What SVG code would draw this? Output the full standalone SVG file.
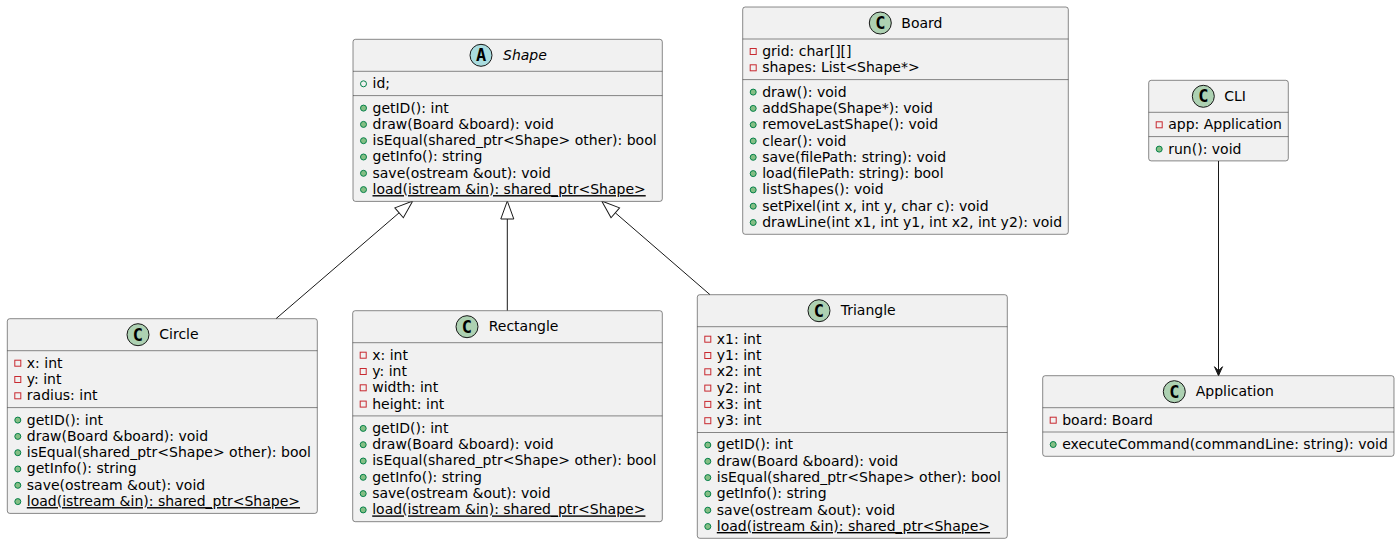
<svg xmlns="http://www.w3.org/2000/svg" width="1400" height="543" viewBox="0 0 1400 543">
<style>
.box{fill:#F1F1F1;stroke:#181818;stroke-width:0.5}
.sep{stroke:#181818;stroke-width:0.5}
.t{font-family:"DejaVu Sans","Liberation Sans",sans-serif;font-size:14px;fill:#000000}
.it{font-style:italic}
.u{text-decoration:underline;text-decoration-skip-ink:none}
.pub{fill:#84BE84;stroke:#038048;stroke-width:1}
.pubf{fill:none;stroke:#038048;stroke-width:1}
.priv{fill:none;stroke:#C82930;stroke-width:1}
.spot{fill:#ADD1B2;stroke:#181818;stroke-width:1}
.spotA{fill:#A9DCDF;stroke:#181818;stroke-width:1}
.sl{font-family:"DejaVu Sans Mono","Liberation Mono",monospace;font-weight:bold;font-size:17px;text-anchor:middle;fill:#000000}
.edge{stroke:#181818;stroke-width:1;fill:none}
</style>
<defs>
<marker id="ext" markerUnits="userSpaceOnUse" viewBox="-1 -8 21 16" refX="0" refY="0" markerWidth="21" markerHeight="16" orient="auto" overflow="visible">
<path d="M0,-6.5 L18,0 L0,6.5 Z" fill="none" stroke="#181818" stroke-width="1"/>
</marker>
<marker id="arr" markerUnits="userSpaceOnUse" viewBox="-10 -5 11 10" refX="0" refY="0" markerWidth="11" markerHeight="10" orient="auto" overflow="visible">
<path d="M0,0 L-9,-4 L-5,0 L-9,4 Z" fill="#181818" stroke="#181818" stroke-width="1"/>
</marker>
</defs>

<g id="connectors">
<line class="edge" x1="276" y1="318.7" x2="399.1" y2="212.8" marker-end="url(#ext)"/>
<line class="edge" x1="507.3" y1="310.7" x2="507.3" y2="219" marker-end="url(#ext)"/>
<line class="edge" x1="710" y1="294.7" x2="615.3" y2="212.8" marker-end="url(#ext)"/>
<line class="edge" x1="1218.5" y1="160.9" x2="1218.5" y2="375.7" marker-end="url(#arr)"/>
</g>

<g id="Shape" transform="translate(353,39.3)">
<rect class="box" x="0" y="0" width="309.3" height="162.1" rx="2.5" ry="2.5"/>
<circle class="spotA" cx="128" cy="16" r="11"/>
<text class="sl" x="128" y="22">A</text>
<text class="t it" x="150" y="20.8">Shape</text>
<line class="sep" x1="0" y1="32" x2="309.3" y2="32"/>
<line class="sep" x1="0" y1="56.3" x2="309.3" y2="56.3"/>
<circle class="pubf" cx="10.5" cy="44.5" r="3"/>
<text class="t" x="19.5" y="49">id;</text>
<circle class="pub" cx="10.5" cy="68.8" r="3"/>
<text class="t" x="19.5" y="73.3">getID(): int</text>
<circle class="pub" cx="10.5" cy="85.1" r="3"/>
<text class="t" x="19.5" y="89.6">draw(Board &amp;board): void</text>
<circle class="pub" cx="10.5" cy="101.4" r="3"/>
<text class="t" x="19.5" y="105.9">isEqual(shared_ptr&lt;Shape&gt; other): bool</text>
<circle class="pub" cx="10.5" cy="117.7" r="3"/>
<text class="t" x="19.5" y="122.2">getInfo(): string</text>
<circle class="pub" cx="10.5" cy="134" r="3"/>
<text class="t" x="19.5" y="138.5">save(ostream &amp;out): void</text>
<circle class="pub" cx="10.5" cy="150.3" r="3"/>
<text class="t u" x="19.5" y="154.8">load(istream &amp;in): shared_ptr&lt;Shape&gt;</text>
</g>

<g id="Board" transform="translate(742.7,7)">
<rect class="box" x="0" y="0" width="325.6" height="227.3" rx="2.5" ry="2.5"/>
<circle class="spot" cx="137.6" cy="16" r="11"/>
<text class="sl" x="137.6" y="22">C</text>
<text class="t" x="158.6" y="20.8">Board</text>
<line class="sep" x1="0" y1="32" x2="325.6" y2="32"/>
<line class="sep" x1="0" y1="72.6" x2="325.6" y2="72.6"/>
<rect class="priv" x="7.5" y="41.5" width="6" height="6"/>
<text class="t" x="19.5" y="49">grid: char[][]</text>
<rect class="priv" x="7.5" y="57.8" width="6" height="6"/>
<text class="t" x="19.5" y="65.3">shapes: List&lt;Shape*&gt;</text>
<circle class="pub" cx="10.5" cy="85.1" r="3"/>
<text class="t" x="19.5" y="89.6">draw(): void</text>
<circle class="pub" cx="10.5" cy="101.4" r="3"/>
<text class="t" x="19.5" y="105.9">addShape(Shape*): void</text>
<circle class="pub" cx="10.5" cy="117.7" r="3"/>
<text class="t" x="19.5" y="122.2">removeLastShape(): void</text>
<circle class="pub" cx="10.5" cy="134" r="3"/>
<text class="t" x="19.5" y="138.5">clear(): void</text>
<circle class="pub" cx="10.5" cy="150.3" r="3"/>
<text class="t" x="19.5" y="154.8">save(filePath: string): void</text>
<circle class="pub" cx="10.5" cy="166.6" r="3"/>
<text class="t" x="19.5" y="171.1">load(filePath: string): bool</text>
<circle class="pub" cx="10.5" cy="182.9" r="3"/>
<text class="t" x="19.5" y="187.4">listShapes(): void</text>
<circle class="pub" cx="10.5" cy="199.2" r="3"/>
<text class="t" x="19.5" y="203.7">setPixel(int x, int y, char c): void</text>
<circle class="pub" cx="10.5" cy="215.5" r="3"/>
<text class="t" x="19.5" y="220">drawLine(int x1, int y1, int x2, int y2): void</text>
</g>

<g id="CLI" transform="translate(1148.7,80.3)">
<rect class="box" x="0" y="0" width="139.6" height="80.6" rx="2.5" ry="2.5"/>
<circle class="spot" cx="54.6" cy="16" r="11"/>
<text class="sl" x="54.6" y="22">C</text>
<text class="t" x="75.6" y="20.8">CLI</text>
<line class="sep" x1="0" y1="32" x2="139.6" y2="32"/>
<line class="sep" x1="0" y1="56.3" x2="139.6" y2="56.3"/>
<rect class="priv" x="7.5" y="41.5" width="6" height="6"/>
<text class="t" x="19.5" y="49">app: Application</text>
<circle class="pub" cx="10.5" cy="68.8" r="3"/>
<text class="t" x="19.5" y="73.3">run(): void</text>
</g>

<g id="Application" transform="translate(1042.7,375.7)">
<rect class="box" x="0" y="0" width="351.3" height="80.6" rx="2.5" ry="2.5"/>
<circle class="spot" cx="131.6" cy="16" r="11"/>
<text class="sl" x="131.6" y="22">C</text>
<text class="t" x="153" y="20.8">Application</text>
<line class="sep" x1="0" y1="32" x2="351.3" y2="32"/>
<line class="sep" x1="0" y1="56.3" x2="351.3" y2="56.3"/>
<rect class="priv" x="7.5" y="41.5" width="6" height="6"/>
<text class="t" x="19.5" y="49">board: Board</text>
<circle class="pub" cx="10.5" cy="68.8" r="3"/>
<text class="t" x="19.5" y="73.3">executeCommand(commandLine: string): void</text>
</g>

<g id="Circle" transform="translate(7.3,318.7)">
<rect class="box" x="0" y="0" width="310" height="194.7" rx="2.5" ry="2.5"/>
<circle class="spot" cx="130.7" cy="16" r="11"/>
<text class="sl" x="130.7" y="22">C</text>
<text class="t" x="152" y="20.8">Circle</text>
<line class="sep" x1="0" y1="32" x2="310" y2="32"/>
<line class="sep" x1="0" y1="88.9" x2="310" y2="88.9"/>
<rect class="priv" x="7.5" y="41.5" width="6" height="6"/>
<text class="t" x="19.5" y="49">x: int</text>
<rect class="priv" x="7.5" y="57.8" width="6" height="6"/>
<text class="t" x="19.5" y="65.3">y: int</text>
<rect class="priv" x="7.5" y="74.1" width="6" height="6"/>
<text class="t" x="19.5" y="81.6">radius: int</text>
<circle class="pub" cx="10.5" cy="101.4" r="3"/>
<text class="t" x="19.5" y="105.9">getID(): int</text>
<circle class="pub" cx="10.5" cy="117.7" r="3"/>
<text class="t" x="19.5" y="122.2">draw(Board &amp;board): void</text>
<circle class="pub" cx="10.5" cy="134" r="3"/>
<text class="t" x="19.5" y="138.5">isEqual(shared_ptr&lt;Shape&gt; other): bool</text>
<circle class="pub" cx="10.5" cy="150.3" r="3"/>
<text class="t" x="19.5" y="154.8">getInfo(): string</text>
<circle class="pub" cx="10.5" cy="166.6" r="3"/>
<text class="t" x="19.5" y="171.1">save(ostream &amp;out): void</text>
<circle class="pub" cx="10.5" cy="182.9" r="3"/>
<text class="t u" x="19.5" y="187.4">load(istream &amp;in): shared_ptr&lt;Shape&gt;</text>
</g>

<g id="Rectangle" transform="translate(352.7,310.7)">
<rect class="box" x="0" y="0" width="309.6" height="211" rx="2.5" ry="2.5"/>
<circle class="spot" cx="114.3" cy="16" r="11"/>
<text class="sl" x="114.3" y="22">C</text>
<text class="t" x="136" y="20.8">Rectangle</text>
<line class="sep" x1="0" y1="32" x2="309.6" y2="32"/>
<line class="sep" x1="0" y1="105.2" x2="309.6" y2="105.2"/>
<rect class="priv" x="7.5" y="41.5" width="6" height="6"/>
<text class="t" x="19.5" y="49">x: int</text>
<rect class="priv" x="7.5" y="57.8" width="6" height="6"/>
<text class="t" x="19.5" y="65.3">y: int</text>
<rect class="priv" x="7.5" y="74.1" width="6" height="6"/>
<text class="t" x="19.5" y="81.6">width: int</text>
<rect class="priv" x="7.5" y="90.4" width="6" height="6"/>
<text class="t" x="19.5" y="97.9">height: int</text>
<circle class="pub" cx="10.5" cy="117.7" r="3"/>
<text class="t" x="19.5" y="122.2">getID(): int</text>
<circle class="pub" cx="10.5" cy="134" r="3"/>
<text class="t" x="19.5" y="138.5">draw(Board &amp;board): void</text>
<circle class="pub" cx="10.5" cy="150.3" r="3"/>
<text class="t" x="19.5" y="154.8">isEqual(shared_ptr&lt;Shape&gt; other): bool</text>
<circle class="pub" cx="10.5" cy="166.6" r="3"/>
<text class="t" x="19.5" y="171.1">getInfo(): string</text>
<circle class="pub" cx="10.5" cy="182.9" r="3"/>
<text class="t" x="19.5" y="187.4">save(ostream &amp;out): void</text>
<circle class="pub" cx="10.5" cy="199.2" r="3"/>
<text class="t u" x="19.5" y="203.7">load(istream &amp;in): shared_ptr&lt;Shape&gt;</text>
</g>

<g id="Triangle" transform="translate(697.3,294.7)">
<rect class="box" x="0" y="0" width="310" height="243.6" rx="2.5" ry="2.5"/>
<circle class="spot" cx="121.7" cy="16" r="11"/>
<text class="sl" x="121.7" y="22">C</text>
<text class="t" x="143.4" y="20.8">Triangle</text>
<line class="sep" x1="0" y1="32" x2="310" y2="32"/>
<line class="sep" x1="0" y1="137.8" x2="310" y2="137.8"/>
<rect class="priv" x="7.5" y="41.5" width="6" height="6"/>
<text class="t" x="19.5" y="49">x1: int</text>
<rect class="priv" x="7.5" y="57.8" width="6" height="6"/>
<text class="t" x="19.5" y="65.3">y1: int</text>
<rect class="priv" x="7.5" y="74.1" width="6" height="6"/>
<text class="t" x="19.5" y="81.6">x2: int</text>
<rect class="priv" x="7.5" y="90.4" width="6" height="6"/>
<text class="t" x="19.5" y="97.9">y2: int</text>
<rect class="priv" x="7.5" y="106.7" width="6" height="6"/>
<text class="t" x="19.5" y="114.2">x3: int</text>
<rect class="priv" x="7.5" y="123" width="6" height="6"/>
<text class="t" x="19.5" y="130.5">y3: int</text>
<circle class="pub" cx="10.5" cy="150.3" r="3"/>
<text class="t" x="19.5" y="154.8">getID(): int</text>
<circle class="pub" cx="10.5" cy="166.6" r="3"/>
<text class="t" x="19.5" y="171.1">draw(Board &amp;board): void</text>
<circle class="pub" cx="10.5" cy="182.9" r="3"/>
<text class="t" x="19.5" y="187.4">isEqual(shared_ptr&lt;Shape&gt; other): bool</text>
<circle class="pub" cx="10.5" cy="199.2" r="3"/>
<text class="t" x="19.5" y="203.7">getInfo(): string</text>
<circle class="pub" cx="10.5" cy="215.5" r="3"/>
<text class="t" x="19.5" y="220">save(ostream &amp;out): void</text>
<circle class="pub" cx="10.5" cy="231.8" r="3"/>
<text class="t u" x="19.5" y="236.3">load(istream &amp;in): shared_ptr&lt;Shape&gt;</text>
</g>
</svg>
